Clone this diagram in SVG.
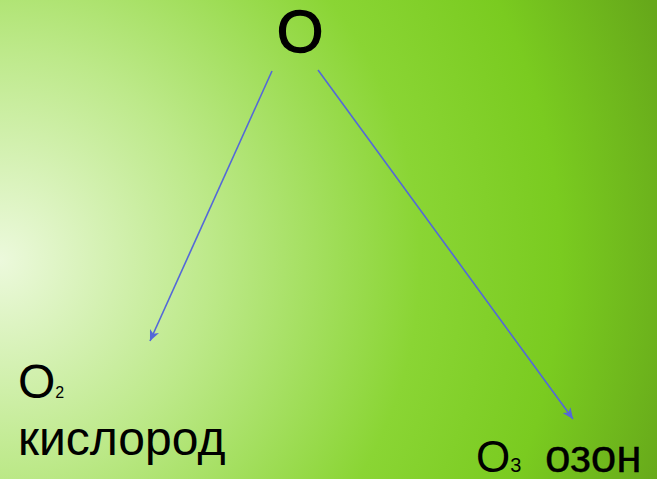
<svg xmlns="http://www.w3.org/2000/svg" width="657" height="479" viewBox="0 0 657 479">
<defs>
<radialGradient id="bg" gradientUnits="userSpaceOnUse" cx="0" cy="260" r="700">
<stop offset="0" stop-color="#ecf9dc"/>
<stop offset="0.3" stop-color="#bde98a"/>
<stop offset="0.6" stop-color="#8ad534"/>
<stop offset="0.8" stop-color="#7acb20"/>
<stop offset="1" stop-color="#66a81a"/>
</radialGradient>
<marker id="ah" markerWidth="12" markerHeight="10" refX="11" refY="5" orient="auto" markerUnits="userSpaceOnUse">
<path d="M0,0 L11,5 L0,10 L3,5 Z" fill="#5468d8"/>
</marker>
<style>
.t{font-family:"Liberation Sans",Arial,sans-serif;fill:#000}
.b{stroke:#000;stroke-width:1.4}
.c{stroke:#5468d8;stroke-width:1.6;fill:none}
</style>
</defs>
<rect width="657" height="479" fill="url(#bg)"/>
<g id="connectors">
<line class="c" x1="272" y1="71" x2="150" y2="341" marker-end="url(#ah)"/>
<line class="c" x1="318" y1="70" x2="573" y2="419" marker-end="url(#ah)"/>
</g>
<g id="node-O">
<text class="t b" x="300" y="52" font-size="60" text-anchor="middle">О</text>
</g>
<g id="node-O2">
<text class="t" x="18" y="398" font-size="48">О<tspan font-size="16">2</tspan></text>
<text class="t" x="18" y="455" font-size="48">кислород</text>
</g>
<g id="node-O3">
<text class="t" x="476" y="472" font-size="44">О<tspan font-size="20">3</tspan></text>
<text class="t" x="545" y="472" font-size="46" stroke="#000" stroke-width="0.3">озон</text>
</g>
</svg>
